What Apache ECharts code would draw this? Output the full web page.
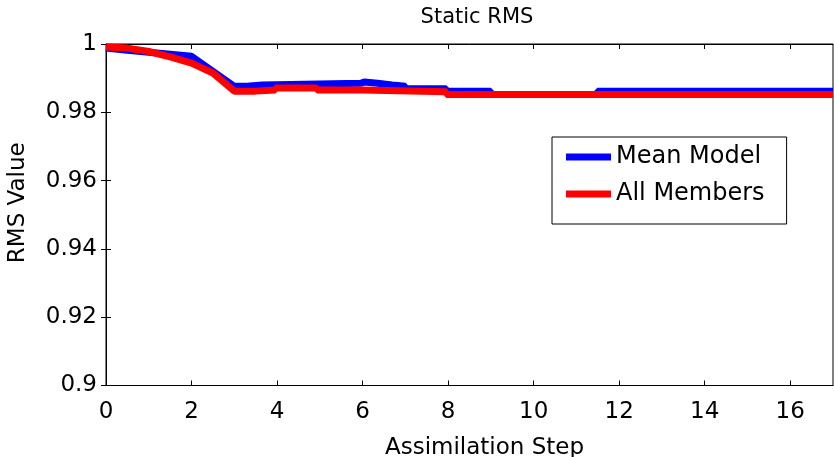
<!DOCTYPE html>
<html>
<head>
<meta charset="utf-8">
<script src="https://cdn.jsdelivr.net/npm/echarts@6/dist/echarts.min.js"></script>
<style>html,body{margin:0;padding:0;background:#fff}#c{width:834px;height:457px}</style>
</head>
<body>
<div id="c"></div>
<script>
// ---- data ----
const meanX = [0, 0.5, 1, 1.5, 2, 3, 3.3, 3.3, 3.65, 3.65, 5.96, 5.96, 6.04, 6.04, 6.35, 6.35, 6.69, 6.69, 7.0, 7.0, 7.96, 7.96, 9.0, 9.0, 11.49, 11.49, 17];
const meanY = [0.9988, 0.9982, 0.9976, 0.9970, 0.9964, 0.9876, 0.9876, 0.9880, 0.9880, 0.9885, 0.9885, 0.9889, 0.9889, 0.9885, 0.9885, 0.9880, 0.9880, 0.9876, 0.9876, 0.9869, 0.9869, 0.9862, 0.9862, 0.9852, 0.9852, 0.9862, 0.9862];
const allX = [0, 0.5, 1, 1.5, 2, 2.5, 3, 3.49, 3.49, 3.96, 3.96, 4.93, 4.93, 6.0, 6.0, 7.96, 7.96, 17];
const allY = [0.9991, 0.9988, 0.9978, 0.9962, 0.9944, 0.9915, 0.9862, 0.9862, 0.9865, 0.9865, 0.9871, 0.9871, 0.9865, 0.9865, 0.9860, 0.9860, 0.9852, 0.9852];
const xTicks = [0, 2, 4, 6, 8, 10, 12, 14, 16];
const yTicks = [0.9, 0.92, 0.94, 0.96, 0.98, 1];
const seriesNames = ['Mean Model', 'All Members'];
const titleText = 'Static RMS';
const xName = 'Assimilation Step';
const yName = 'RMS Value';

const FONT = 'DejaVu Sans';
const zip = (xs, ys) => xs.map((x, i) => [x, ys[i]]);
const tickStyle = { show: true, inside: true, length: 5, lineStyle: { color: '#000', width: 1 } };
const lineAx = { show: true, lineStyle: { color: '#000', width: 1 } };

const chart = echarts.init(document.getElementById('c'), null, { renderer: 'canvas' });
chart.setOption({
  animation: false,
  backgroundColor: '#fff',
  textStyle: { fontFamily: FONT },
  title: {
    text: titleText, left: 472, top: 2, textAlign: 'center',
    textStyle: { fontFamily: FONT, fontSize: 21, fontWeight: 'normal', color: '#000' }
  },
  grid: {
    left: 106, right: 1, top: 44, bottom: 71.5,
    outerBoundsMode: 'none', containLabel: false,
    show: true, borderColor: '#000', borderWidth: 1, backgroundColor: '#fff'
  },
  legend: {
    orient: 'vertical', left: 552, top: 137,
    padding: [8, 22, 18, 14],
    itemWidth: 45, itemHeight: 7, itemGap: 13, itemTextGap: 19,
    icon: 'rect',
    borderColor: '#000', borderWidth: 1, backgroundColor: '#fff',
    textStyle: { fontFamily: FONT, fontSize: 24, lineHeight: 23, color: '#000' },
    data: seriesNames
  },
  xAxis: [
    {
      type: 'value', position: 'bottom', min: 0, max: 17,
      axisLine: lineAx, splitLine: { show: false },
      axisTick: Object.assign({ customValues: xTicks }, tickStyle),
      axisLabel: { customValues: xTicks, fontFamily: FONT, fontSize: 23, color: '#000', margin: 15 },
      name: xName, nameLocation: 'middle', nameGap: 51,
      nameTextStyle: { fontFamily: FONT, fontSize: 23, color: '#000', padding: [0, 0, 0, 30] }
    },
    {
      type: 'value', position: 'top', min: 0, max: 17,
      axisLine: lineAx, splitLine: { show: false },
      axisTick: Object.assign({ customValues: xTicks }, tickStyle),
      axisLabel: { show: false }
    }
  ],
  yAxis: [
    {
      type: 'value', position: 'left', min: 0.9, max: 1,
      axisLine: lineAx, splitLine: { show: false },
      axisTick: Object.assign({ customValues: yTicks }, tickStyle),
      axisLabel: { customValues: yTicks, fontFamily: FONT, fontSize: 23, color: '#000', margin: 9 },
      name: yName, nameLocation: 'middle', nameGap: 76,
      nameTextStyle: { fontFamily: FONT, fontSize: 23, color: '#000', padding: [0, 0, 0, 24] }
    },
    {
      type: 'value', position: 'right', min: 0.9, max: 1,
      axisLine: lineAx, splitLine: { show: false },
      axisTick: Object.assign({ customValues: yTicks }, tickStyle),
      axisLabel: { show: false }
    }
  ],
  series: [
    {
      name: seriesNames[0], type: 'line', data: zip(meanX, meanY),
      showSymbol: false, symbol: 'none', color: '#0000ff',
      lineStyle: { color: '#0000ff', width: 7, join: 'bevel' }, clip: true
    },
    {
      name: seriesNames[1], type: 'line', data: zip(allX, allY),
      showSymbol: false, symbol: 'none', color: '#ff0000',
      lineStyle: { color: '#ff0000', width: 7, join: 'bevel' }, clip: true
    }
  ]
});
</script>
</body>
</html>
